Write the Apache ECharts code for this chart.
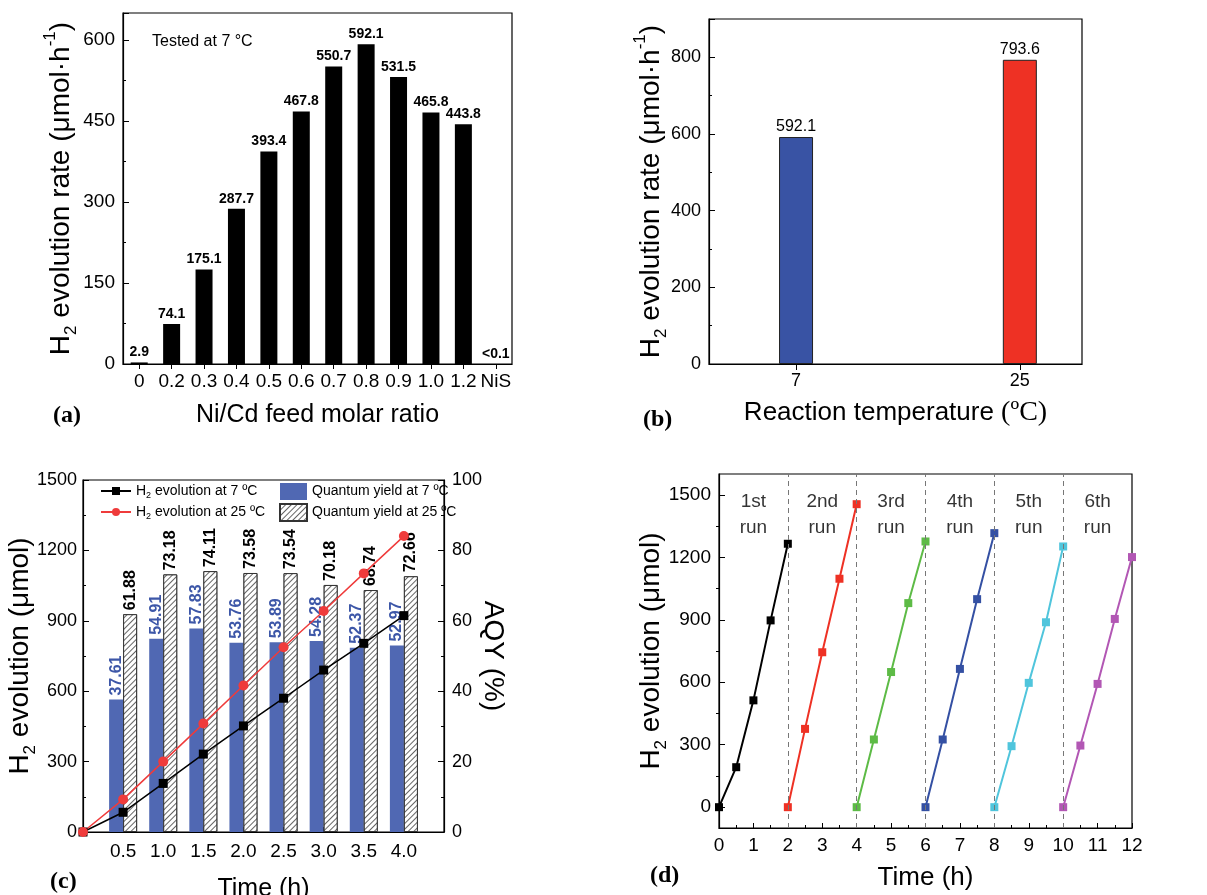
<!DOCTYPE html>
<html>
<head>
<meta charset="utf-8">
<script src="https://cdn.jsdelivr.net/npm/echarts@6/dist/echarts.min.js"></script>
<style>html,body{margin:0;padding:0;background:#fff}#c{width:1207px;height:895px}</style>
</head>
<body>
<div id="c"></div>
<script>
// ---------- Panel (a) ----------
const ratioCats = ['0','0.2','0.3','0.4','0.5','0.6','0.7','0.8','0.9','1.0','1.2','NiS'];
const rateA = [2.9, 74.1, 175.1, 287.7, 393.4, 467.8, 550.7, 592.1, 531.5, 465.8, 443.8, 0.05];
const rateALabels = ['2.9','74.1','175.1','287.7','393.4','467.8','550.7','592.1','531.5','465.8','443.8','<0.1'];

// ---------- Panel (b) ----------
const tempB = [7, 25];
const rateB = [592.1, 793.6];

// ---------- Panel (c) ----------
const timeCats = ['0', '0.5', '1.0', '1.5', '2.0', '2.5', '3.0', '3.5', '4.0', '4.5'];
const timeC = ['0', '0.5', '1.0', '1.5', '2.0', '2.5', '3.0', '3.5', '4.0'];
const h2At7 = [0, 84, 207, 332, 452, 570, 690, 804, 922];
const h2At25 = [0, 139, 300, 462, 624, 787, 942, 1102, 1261];
const aqyTime = ['0.5', '1.0', '1.5', '2.0', '2.5', '3.0', '3.5', '4.0'];
const aqy7 = [37.61, 54.91, 57.83, 53.76, 53.89, 54.28, 52.37, 52.97];
const aqy25 = [61.88, 73.18, 74.11, 73.58, 73.54, 70.18, 68.74, 72.66];

// ---------- Panel (d) ----------
const run1T = [0, 0.5, 1, 1.5, 2];      const run1H = [0, 192, 513, 897, 1265];
const run2T = [2, 2.5, 3, 3.5, 4];      const run2H = [0, 376, 744, 1097, 1455];
const run3T = [4, 4.5, 5, 5.5, 6];      const run3H = [0, 325, 649, 980, 1276];
const run4T = [6, 6.5, 7, 7.5, 8];      const run4H = [0, 325, 664, 999, 1316];
const run5T = [8, 8.5, 9, 9.5, 10];     const run5H = [0, 293, 597, 888, 1252];
const run6T = [10, 10.5, 11, 11.5, 12]; const run6H = [0, 296, 592, 904, 1201];
const runBounds = [2, 4, 6, 8, 10];
const runNames = ['1st\nrun', '2nd\nrun', '3rd\nrun', '4th\nrun', '5th\nrun', '6th\nrun'];
const runLabelT = [1, 3, 5, 7, 9, 11];
const runLabelH = [1405, 1405, 1405, 1405, 1405, 1405];
const dMajorTicks = [0, 300, 600, 900, 1200, 1500];
const dMinorTicks = [150, 450, 750, 1050, 1350];

const F = 'Liberation Sans, Arial, sans-serif';
const SERIF = 'Liberation Serif, Times New Roman, serif';
const zip = (a, b) => a.map((v, i) => [v, b[i]]);
const plain = v => String(v);
// map values given at some categories onto the full category list
const onCats = (cats, keys, vals) => cats.map(c => { const k = keys.indexOf(c); return k < 0 ? null : vals[k]; });

const nameRich = {
  sub: { fontSize: 17, fontFamily: F, verticalAlign: 'bottom', lineHeight: 38, color: '#000' },
  sup: { fontSize: 17, fontFamily: F, verticalAlign: 'top', lineHeight: 38, color: '#000' },
  serif: { fontSize: 28, fontFamily: SERIF, lineHeight: 38, color: '#000' }
};
function nameStyle(size) {
  return { fontSize: size, fontFamily: F, color: '#000', lineHeight: 38, rich: nameRich };
}
const lab = (size) => ({ fontSize: size, fontFamily: F, color: '#000', formatter: plain });
const axLine = { show: true, onZero: false, lineStyle: { color: '#000', width: 1.2 } };
const gridBase = { show: true, borderColor: '#000', borderWidth: 1.2, backgroundColor: 'transparent', outerBoundsMode: 'none', containLabel: false };

const chart = echarts.init(document.getElementById('c'), null, { renderer: 'canvas' });

const option = {
  animation: false,
  backgroundColor: '#fff',
  grid: [
    Object.assign({ left: 123, top: 13, width: 389, height: 351 }, gridBase),
    Object.assign({ left: 709, top: 19, width: 373, height: 345 }, gridBase),
    Object.assign({ left: 83, top: 480, width: 361, height: 352 }, gridBase),
    Object.assign({ left: 719, top: 474, width: 413, height: 354 }, gridBase)
  ],
  xAxis: [
    { type: 'category', gridIndex: 0, data: ratioCats, axisLine: axLine,
      axisTick: { show: true, alignWithLabel: true, length: 5, lineStyle: { color: '#000' } },
      axisLabel: { fontSize: 19, fontFamily: F, color: '#000', margin: 8, interval: 0 },
      name: 'Ni/Cd feed molar ratio', nameLocation: 'middle', nameGap: 32, nameMoveOverlap: false, nameTextStyle: nameStyle(25) },
    { type: 'value', gridIndex: 1, min: 0, max: 30, axisLine: axLine, splitLine: { show: false },
      axisTick: { show: true, customValues: tempB, length: 6, lineStyle: { color: '#000' } },
      axisLabel: Object.assign(lab(18), { customValues: tempB, margin: 8 }),
      name: 'Reaction temperature {serif|(ºC)}', nameLocation: 'middle', nameGap: 30, nameMoveOverlap: false, nameTextStyle: nameStyle(26) },
    { type: 'category', gridIndex: 2, data: timeCats, boundaryGap: false, axisLine: axLine,
      axisTick: { show: true, inside: true, length: 5, interval: 0, lineStyle: { color: '#000' } },
      axisLabel: { fontSize: 19, fontFamily: F, color: '#000', margin: 10,
        interval: (i, v) => v !== '0' && v !== '4.5' },
      name: 'Time (h)', nameLocation: 'middle', nameGap: 38, nameMoveOverlap: false, nameTextStyle: nameStyle(25) },
    { type: 'value', gridIndex: 3, min: 0, max: 12, interval: 1, axisLine: axLine, splitLine: { show: false },
      axisTick: { show: true, inside: true, length: 5, lineStyle: { color: '#000' } },
      minorTick: { show: true, splitNumber: 2, length: 3, lineStyle: { color: '#000' } },
      axisLabel: Object.assign(lab(19), { margin: 8 }),
      name: 'Time (h)', nameLocation: 'middle', nameGap: 31, nameMoveOverlap: false, nameTextStyle: nameStyle(26) }
  ],
  yAxis: [
    { type: 'value', gridIndex: 0, min: 0, max: 650, interval: 150, axisLine: axLine, splitLine: { show: false },
      axisTick: { show: true, inside: true, length: 6, lineStyle: { color: '#000' } },
      minorTick: { show: true, splitNumber: 2, length: 3, lineStyle: { color: '#000' } },
      axisLabel: Object.assign(lab(19), { showMaxLabel: false, margin: 8 }),
      name: 'H{sub|2} evolution rate (μmol·h{sup|-1})', nameLocation: 'middle', nameGap: 43, nameMoveOverlap: false, nameTextStyle: nameStyle(28) },
    { type: 'value', gridIndex: 1, min: 0, max: 900, interval: 200, axisLine: axLine, splitLine: { show: false },
      axisTick: { show: true, inside: true, length: 6, lineStyle: { color: '#000' } },
      minorTick: { show: true, splitNumber: 2, length: 3, lineStyle: { color: '#000' } },
      axisLabel: Object.assign(lab(18), { showMaxLabel: false, margin: 8 }),
      name: 'H{sub|2} evolution rate (μmol·h{sup|-1})', nameLocation: 'middle', nameGap: 39, nameMoveOverlap: false, nameTextStyle: nameStyle(28) },
    { type: 'value', gridIndex: 2, min: 0, max: 1500, interval: 300, position: 'left', axisLine: axLine, splitLine: { show: false },
      axisTick: { show: true, inside: true, length: 6, lineStyle: { color: '#000' } },
      minorTick: { show: true, splitNumber: 2, length: 3, lineStyle: { color: '#000' } },
      axisLabel: Object.assign(lab(18), { margin: 6 }),
      name: 'H{sub|2} evolution (μmol)', nameLocation: 'middle', nameGap: 44, nameMoveOverlap: false, nameTextStyle: nameStyle(28) },
    { type: 'value', gridIndex: 2, min: 0, max: 100, interval: 20, position: 'right', axisLine: axLine, splitLine: { show: false },
      axisTick: { show: true, inside: true, length: 6, lineStyle: { color: '#000' } },
      minorTick: { show: true, splitNumber: 2, length: 3, lineStyle: { color: '#000' } },
      axisLabel: Object.assign(lab(18), { margin: 8 }),
      name: 'AQY (%)', nameLocation: 'middle', nameGap: 30, nameRotate: -90, nameMoveOverlap: false, nameTextStyle: nameStyle(28) },
    { type: 'value', gridIndex: 3, min: -100, max: 1600, axisLine: axLine, splitLine: { show: false },
      axisTick: { show: true, inside: true, length: 6, customValues: dMajorTicks, lineStyle: { color: '#000' } },
      axisLabel: Object.assign(lab(19), { customValues: dMajorTicks, margin: 8 }),
      name: 'H{sub|2} evolution (μmol)', nameLocation: 'middle', nameGap: 49, nameMoveOverlap: false, nameTextStyle: nameStyle(28) },
    { type: 'value', gridIndex: 3, min: -100, max: 1600, axisLine: { show: false }, splitLine: { show: false },
      axisTick: { show: true, inside: true, length: 3, customValues: dMinorTicks, lineStyle: { color: '#000' } },
      axisLabel: { show: false, customValues: dMinorTicks } }
  ],
  legend: [
    { data: ['H2 evolution at 7 ºC', 'H2 evolution at 25 ºC'], left: 100, top: 484, orient: 'vertical', padding: 0,
      itemWidth: 30, itemHeight: 10, itemGap: 5,
      formatter: n => n.replace('H2', 'H{sub|2}'),
      textStyle: { fontSize: 14, fontFamily: F, color: '#000',
        rich: { sub: { fontSize: 9, verticalAlign: 'bottom', lineHeight: 18, fontFamily: F } } } },
    { data: ['Quantum yield at 7 ºC', 'Quantum yield at 25 ºC'], left: 279, top: 483, orient: 'vertical', padding: 0,
      itemWidth: 27, itemHeight: 17, itemGap: 3, icon: 'rect',
      textStyle: { fontSize: 14, fontFamily: F, color: '#000' } }
  ],
  graphic: [
    { type: 'text', left: 152, top: 34, style: { text: 'Tested at 7 °C', font: '16px ' + F, fill: '#000' } },
    { type: 'text', left: 53, top: 404, style: { text: '(a)', font: 'bold 24px ' + SERIF, fill: '#000' } },
    { type: 'text', left: 643, top: 408, style: { text: '(b)', font: 'bold 24px ' + SERIF, fill: '#000' } },
    { type: 'text', left: 50, top: 870, style: { text: '(c)', font: 'bold 24px ' + SERIF, fill: '#000' } },
    { type: 'text', left: 650, top: 864, style: { text: '(d)', font: 'bold 24px ' + SERIF, fill: '#000' } }
  ],
  series: [
    // (a)
    { type: 'bar', xAxisIndex: 0, yAxisIndex: 0, data: rateA, barWidth: 17,
      itemStyle: { color: '#000' },
      label: { show: true, position: 'top', distance: 3, fontSize: 14, fontWeight: 'bold', fontFamily: F, color: '#000',
        formatter: p => rateALabels[p.dataIndex] } },
    // (b)
    { type: 'bar', xAxisIndex: 1, yAxisIndex: 1, barWidth: 34,
      data: zip(tempB, rateB).map((d, i) => ({ value: d, itemStyle: { color: ['#3953a4', '#ee3124'][i] } })),
      itemStyle: { borderColor: '#222', borderWidth: 1 },
      label: { show: true, position: 'top', distance: 2, fontSize: 16, fontFamily: F, color: '#000',
        formatter: p => p.value[1].toFixed(1) } },
    // (c) bars
    { type: 'bar', name: 'Quantum yield at 7 ºC', xAxisIndex: 2, yAxisIndex: 3, barWidth: 14, barGap: '0%',
      data: onCats(timeCats, aqyTime, aqy7), itemStyle: { color: '#5068b3' },
      label: { show: true, position: 'top', rotate: 90, align: 'left', verticalAlign: 'middle', distance: 4,
        fontSize: 16, fontWeight: 'bold', fontFamily: F, color: '#3d57a8', formatter: p => p.value.toFixed(2) } },
    { type: 'bar', name: 'Quantum yield at 25 ºC', xAxisIndex: 2, yAxisIndex: 3, barWidth: 14, barGap: '0%',
      data: onCats(timeCats, aqyTime, aqy25),
      itemStyle: { color: '#fff', borderColor: '#333', borderWidth: 1,
        decal: { symbol: 'rect', color: '#666', backgroundColor: '#fff', dashArrayX: [1, 0], dashArrayY: [1, 3], rotation: -Math.PI / 4 } },
      label: { show: true, position: 'top', rotate: 90, align: 'left', verticalAlign: 'middle', distance: 4,
        fontSize: 16, fontWeight: 'bold', fontFamily: F, color: '#000', formatter: p => p.value.toFixed(2) } },
    // (c) lines
    { type: 'line', name: 'H2 evolution at 7 ºC', xAxisIndex: 2, yAxisIndex: 2, data: onCats(timeCats, timeC, h2At7),
      symbol: 'rect', symbolSize: 9, z: 5, lineStyle: { color: '#000', width: 1.5 }, itemStyle: { color: '#000' } },
    { type: 'line', name: 'H2 evolution at 25 ºC', xAxisIndex: 2, yAxisIndex: 2, data: onCats(timeCats, timeC, h2At25),
      symbol: 'circle', symbolSize: 10, z: 5, lineStyle: { color: '#ef3b3b', width: 1.5 }, itemStyle: { color: '#ef3b3b' } },
    // (d)
    ...[[run1T, run1H, '#000000'], [run2T, run2H, '#ee3124'], [run3T, run3H, '#5dbb46'],
        [run4T, run4H, '#3450a3'], [run5T, run5H, '#50c5dc'], [run6T, run6H, '#b257b4']].map((r, i) => ({
      type: 'line', xAxisIndex: 3, yAxisIndex: 4, data: zip(r[0], r[1]), symbol: 'rect', symbolSize: 8,
      lineStyle: { color: r[2], width: 2 }, itemStyle: { color: r[2] }, z: 4, clip: false,
      markLine: i === 0 ? { silent: true, symbol: 'none', label: { show: false },
        lineStyle: { color: '#777', type: [5, 4], width: 1 }, data: runBounds.map(b => ({ xAxis: b })) } : undefined
    })),
    { type: 'scatter', xAxisIndex: 3, yAxisIndex: 4, data: zip(runLabelT, runLabelH), symbolSize: 0,
      label: { show: true, position: 'inside', formatter: p => runNames[p.dataIndex], fontSize: 19, lineHeight: 26,
        fontFamily: F, color: '#000' } }
  ]
};
chart.setOption(option);
</script>
</body>
</html>
